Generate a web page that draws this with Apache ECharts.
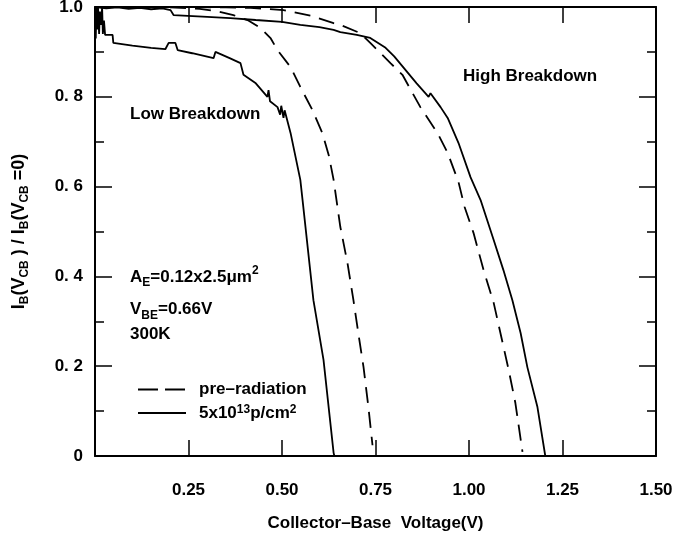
<!DOCTYPE html>
<html>
<head>
<meta charset="utf-8">
<script src="https://cdn.jsdelivr.net/npm/echarts@6/dist/echarts.min.js"></script>
<style>
  html, body { margin: 0; padding: 0; background: #fff; }
  #chart { width: 680px; height: 535px; }
</style>
</head>
<body>
<div id="chart"></div>
<script>
// tick labels
var xLabels = ['', '0.25', '0.50', '0.75', '1.00', '1.25', '1.50']
var yLabels = ['0', '0. 2', '0. 4', '0. 6', '0. 8', '1.0']

// low breakdown, pre-radiation (dashed)
var lowPreV = [0, 0.10, 0.20, 0.28, 0.33, 0.37, 0.41, 0.443, 0.47, 0.488, 0.523, 0.549, 0.581, 0.608, 0.625, 0.638, 0.656, 0.675, 0.691, 0.704, 0.718, 0.731, 0.742]
var lowPreI = [1.0, 1.0, 0.999, 0.996, 0.99, 0.982, 0.97, 0.953, 0.93, 0.904, 0.866, 0.822, 0.771, 0.719, 0.67, 0.615, 0.51, 0.43, 0.347, 0.274, 0.198, 0.109, 0.024]

// low breakdown, 5x10^13 p/cm^2 (solid)
var lowRadV = [0, 0.002, 0.004, 0.006, 0.008, 0.011, 0.013, 0.016, 0.019, 0.021, 0.024, 0.027, 0.028, 0.047, 0.049, 0.10, 0.15, 0.188, 0.197, 0.215, 0.221, 0.26, 0.317, 0.322, 0.36, 0.389, 0.397, 0.43, 0.461, 0.464, 0.468, 0.488, 0.495, 0.498, 0.504, 0.507, 0.523, 0.549, 0.555, 0.584, 0.611, 0.638, 0.64]
var lowRadI = [1.0, 0.93, 1.0, 0.95, 1.0, 0.94, 0.99, 0.96, 1.0, 0.94, 0.97, 0.938, 0.938, 0.938, 0.92, 0.914, 0.909, 0.906, 0.92, 0.92, 0.904, 0.897, 0.886, 0.9, 0.886, 0.875, 0.849, 0.83, 0.80, 0.815, 0.79, 0.777, 0.76, 0.78, 0.753, 0.77, 0.719, 0.615, 0.57, 0.347, 0.214, 0.007, 0]

// high breakdown, pre-radiation (dashed)
var highPreV = [0, 0.2, 0.35, 0.416, 0.504, 0.58, 0.638, 0.656, 0.709, 0.736, 0.79, 0.822, 0.87, 0.916, 0.943, 0.972, 0.988, 1.012, 1.039, 1.066, 1.084, 1.106, 1.124, 1.143]
var highPreI = [1.0, 1.0, 0.999, 0.998, 0.993, 0.98, 0.964, 0.96, 0.942, 0.92, 0.875, 0.849, 0.777, 0.719, 0.675, 0.61, 0.555, 0.497, 0.414, 0.341, 0.274, 0.192, 0.118, 0.009]

// high breakdown, 5x10^13 p/cm^2 (solid)
var highRadV = [0, 0.03, 0.06, 0.09, 0.12, 0.15, 0.18, 0.202, 0.21, 0.30, 0.362, 0.43, 0.50, 0.549, 0.60, 0.638, 0.656, 0.70, 0.736, 0.777, 0.80, 0.83, 0.86, 0.892, 0.897, 0.924, 0.943, 0.972, 1.004, 1.031, 1.066, 1.092, 1.116, 1.138, 1.156, 1.183, 1.204]
var highRadI = [1.0, 0.997, 0.999, 0.996, 0.998, 0.995, 0.997, 0.993, 0.982, 0.978, 0.975, 0.971, 0.967, 0.96, 0.955, 0.949, 0.944, 0.938, 0.931, 0.909, 0.89, 0.86, 0.83, 0.80, 0.808, 0.777, 0.753, 0.697, 0.621, 0.57, 0.481, 0.414, 0.347, 0.274, 0.198, 0.109, 0]

var PRE = 'pre–radiation'
var RAD = '5x10¹³p/cm²'
var FONT = "'Liberation Sans', Arial, sans-serif"

function zip (xs, ys) {
  return xs.map(function (x, i) { return [x, ys[i]] })
}

function curve (name, xs, ys, dashed) {
  return {
    name: name,
    type: 'line',
    data: zip(xs, ys),
    symbol: 'none',
    silent: true,
    animation: false,
    itemStyle: { color: '#000' },
    lineStyle: { color: '#000', width: 1.8, type: dashed ? [16, 9] : 'solid' }
  }
}

var tickStyle = { color: '#000', width: 1.5 }
var axisLineStyle = { color: '#000', width: 2 }

function xAxisOpt (pos, withLabels) {
  var o = {
    type: 'value',
    position: pos,
    min: 0,
    max: 1.5,
    interval: 0.25,
    axisLine: { show: true, onZero: false, lineStyle: axisLineStyle },
    axisTick: { show: true, inside: true, length: 16, lineStyle: tickStyle },
    axisLabel: {
      show: withLabels,
      margin: 26,
      fontFamily: FONT,
      fontWeight: 'bold',
      fontSize: 17,
      color: '#000',
      formatter: function (v, i) { return xLabels[i] }
    },
    splitLine: { show: false }
  }
  if (withLabels) {
    o.name = 'Collector–Base  Voltage(V)'
    o.nameLocation = 'middle'
    o.nameGap = 59
    o.nameTextStyle = { fontFamily: FONT, fontWeight: 'bold', fontSize: 17, color: '#000' }
  }
  return o
}

function yAxisOpt (pos, withLabels) {
  var o = {
    type: 'value',
    position: pos,
    min: 0,
    max: 1,
    interval: 0.2,
    axisLine: { show: true, onZero: false, lineStyle: axisLineStyle },
    axisTick: { show: true, inside: true, length: 17, lineStyle: tickStyle },
    minorTick: { show: true, splitNumber: 2, length: 9, lineStyle: tickStyle },
    axisLabel: {
      show: withLabels,
      margin: 12,
      fontFamily: FONT,
      fontWeight: 'bold',
      fontSize: 17,
      color: '#000',
      formatter: function (v, i) { return yLabels[i] }
    },
    splitLine: { show: false },
    minorSplitLine: { show: false }
  }
  if (withLabels) {
    o.name = '{a|I}{s|B}{a|(V}{s|CB}{a| ) / I}{s|B}{a|(V}{s|CB}{a| =0)}'
    o.nameLocation = 'middle'
    o.nameGap = 64
    o.nameTextStyle = {
      color: '#000',
      rich: {
        a: { fontFamily: FONT, fontWeight: 'bold', fontSize: 18, lineHeight: 24, color: '#000' },
        s: { fontFamily: FONT, fontWeight: 'bold', fontSize: 12, verticalAlign: 'bottom', color: '#000' }
      }
    }
  }
  return o
}

var richText = {
  t: { fontFamily: FONT, fontWeight: 'bold', fontSize: 17, lineHeight: 24, fill: '#000', color: '#000' },
  sub: { fontFamily: FONT, fontWeight: 'bold', fontSize: 12, verticalAlign: 'bottom', fill: '#000', color: '#000' },
  sup: { fontFamily: FONT, fontWeight: 'bold', fontSize: 12, verticalAlign: 'top', fill: '#000', color: '#000' }
}

var legendRich = {
  t: { fontFamily: FONT, fontWeight: 'bold', fontSize: 17, lineHeight: 18, color: '#000' },
  sup: { fontFamily: FONT, fontWeight: 'bold', fontSize: 12, verticalAlign: 'top', color: '#000' },
  g: { width: 8 }
}

function note (x, y, text) {
  return {
    type: 'text',
    left: x,
    top: y,
    silent: true,
    style: {
      text: text,
      rich: richText,
      font: 'bold 17px ' + FONT,
      fill: '#000'
    }
  }
}

var chart = echarts.init(document.getElementById('chart'), null, { renderer: 'canvas' })

chart.setOption({
  backgroundColor: '#fff',
  animation: false,
  grid: { left: 95, right: 24, top: 7, bottom: 79, containLabel: false, outerBoundsMode: 'none' },
  xAxis: [xAxisOpt('bottom', true), xAxisOpt('top', false)],
  yAxis: [yAxisOpt('left', true), yAxisOpt('right', false)],
  legend: {
    left: 137,
    top: 381,
    padding: 0,
    orient: 'vertical',
    itemWidth: 48,
    itemHeight: 14,
    itemGap: 6,
    selectedMode: false,
    itemStyle: { opacity: 0 },
    data: [
      { name: PRE, lineStyle: { type: [20, 7] } },
      { name: RAD }
    ],
    formatter: function (name) {
      if (name === PRE) return '{g|}{t|pre–radiation}'
      return '{g|}{t|5x10}{sup|13}{t|p/cm}{sup|2}'
    },
    textStyle: { color: '#000', rich: legendRich }
  },
  graphic: [
    note(130, 106, 'Low Breakdown'),
    note(463, 68, 'High Breakdown'),
    note(130, 265, '{t|A}{sub|E}{t|=0.12x2.5μm}{sup|2}'),
    note(130, 301, '{t|V}{sub|BE}{t|=0.66V}'),
    note(130, 326, '300K')
  ],
  series: [
    curve(PRE, lowPreV, lowPreI, true),
    curve(RAD, lowRadV, lowRadI, false),
    curve(PRE, highPreV, highPreI, true),
    curve(RAD, highRadV, highRadI, false)
  ]
})
</script>
</body>
</html>
